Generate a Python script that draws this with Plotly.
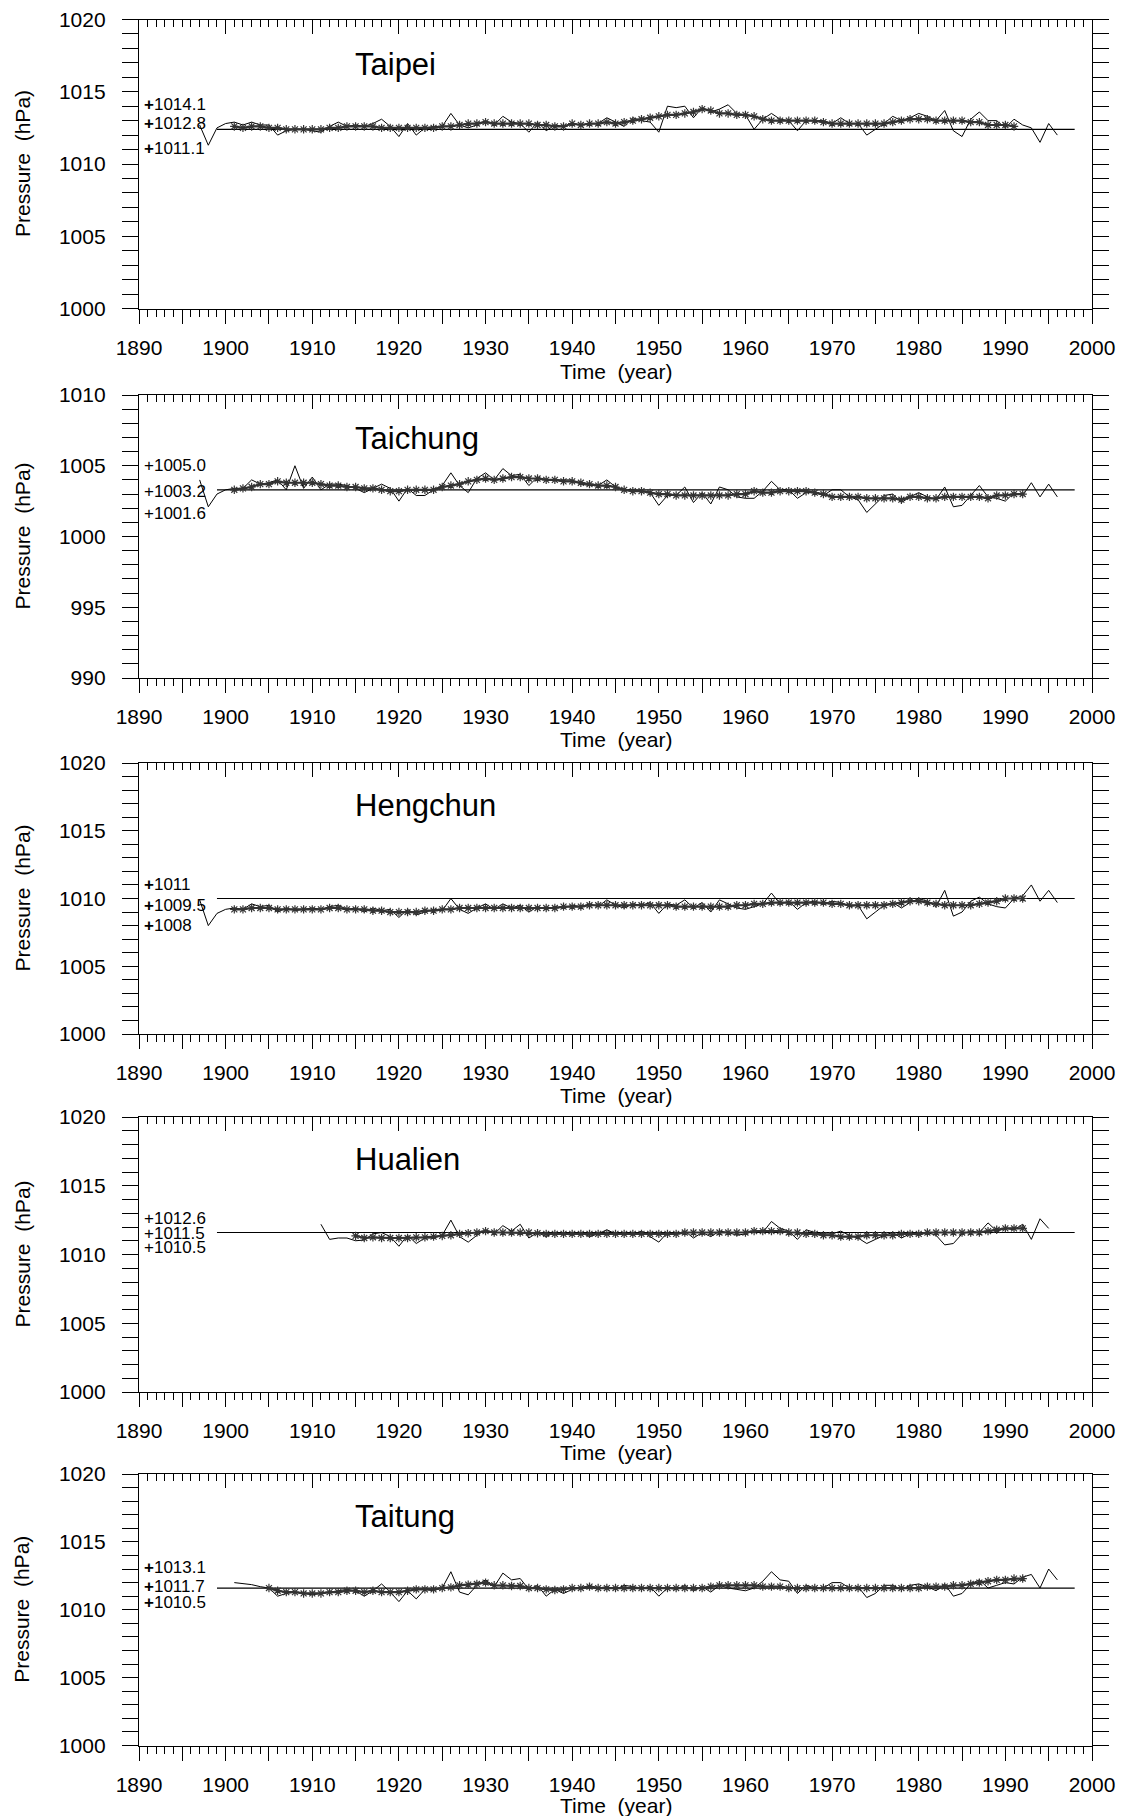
import plotly.graph_objects as go

W, H = 1121, 1816

# ---------------- data ----------------
stations = ["Taipei", "Taichung", "Hengchun", "Hualien", "Taitung"]
y_ranges = [(1000, 1020), (990, 1010), (1000, 1020), (1000, 1020), (1000, 1020)]
x_tickvals = list(range(1890, 2001, 5))
x_ticktext = [str(v) if v % 10 == 0 else "" for v in x_tickvals]

# Taipei
taipei_start = 1897
taipei_annual = [1012.7, 1011.3, 1012.5, 1012.8, 1012.9, 1012.7, 1012.9, 1012.7, 1012.7, 1012.0,
                 1012.3, 1012.4, 1012.4, 1012.3, 1012.2, 1012.6, 1012.9, 1012.6, 1012.7, 1012.6,
                 1012.8, 1013.1, 1012.6, 1011.9, 1012.8, 1012.0, 1012.5, 1012.6, 1012.6, 1013.5,
                 1012.7, 1012.5, 1012.7, 1013.0, 1012.7, 1013.3, 1012.9, 1012.8, 1012.2, 1012.9,
                 1012.3, 1012.7, 1012.6, 1012.8, 1012.7, 1012.8, 1012.8, 1013.2, 1012.9, 1012.6,
                 1013.2, 1013.0, 1012.9, 1012.2, 1014.0, 1013.9, 1014.0, 1013.2, 1013.9, 1013.6,
                 1013.8, 1014.1, 1013.5, 1013.4, 1012.4, 1013.1, 1013.5, 1013.1, 1013.0, 1012.3,
                 1013.0, 1013.0, 1013.0, 1012.8, 1013.2, 1012.8, 1012.8, 1012.0, 1012.4, 1012.8,
                 1013.3, 1013.0, 1013.2, 1013.5, 1013.3, 1013.0, 1013.7, 1012.3, 1011.9, 1013.1,
                 1013.6, 1013.0, 1013.0, 1012.5, 1013.1, 1012.7, 1012.5, 1011.5, 1012.8, 1012.0]
taipei_smooth_start = 1901
taipei_smooth = [1012.6, 1012.5, 1012.6, 1012.6, 1012.5, 1012.5, 1012.4, 1012.4, 1012.4, 1012.4,
                 1012.4, 1012.5, 1012.5, 1012.6, 1012.6, 1012.6, 1012.6, 1012.5, 1012.5, 1012.5,
                 1012.5, 1012.5, 1012.5, 1012.5, 1012.6, 1012.6, 1012.7, 1012.8, 1012.8, 1012.9,
                 1012.8, 1012.8, 1012.8, 1012.8, 1012.8, 1012.7, 1012.7, 1012.6, 1012.6, 1012.8,
                 1012.7, 1012.8, 1012.8, 1012.9, 1012.8, 1012.9, 1013.0, 1013.1, 1013.2, 1013.3,
                 1013.4, 1013.4, 1013.5, 1013.6, 1013.8, 1013.7, 1013.5, 1013.5, 1013.4, 1013.4,
                 1013.3, 1013.1, 1013.0, 1013.0, 1013.0, 1013.0, 1013.0, 1013.0, 1012.9, 1012.8,
                 1012.8, 1012.8, 1012.8, 1012.8, 1012.8, 1012.8, 1012.9, 1013.0, 1013.1, 1013.1,
                 1013.1, 1013.0, 1013.0, 1013.0, 1013.0, 1012.9, 1012.9, 1012.7, 1012.7, 1012.7,
                 1012.6]
taipei_mean = 1012.4
taipei_marks = [1014.1, 1012.8, 1011.1]
taipei_mark_text = ["1014.1", "1012.8", "1011.1"]

# Taichung
taichung_start = 1897
taichung_annual = [1004.0, 1002.1, 1003.0, 1003.3, 1003.4, 1003.4, 1004.0, 1003.7, 1003.8, 1004.0,
                   1003.3, 1005.0, 1003.4, 1004.2, 1003.3, 1003.7, 1003.7, 1003.6, 1003.4, 1003.1,
                   1003.4, 1003.7, 1003.4, 1002.5, 1003.4, 1002.9, 1002.9, 1003.3, 1003.6, 1004.5,
                   1003.6, 1003.1, 1004.1, 1004.5, 1004.0, 1004.8, 1004.3, 1004.4, 1003.6, 1004.2,
                   1004.0, 1004.0, 1004.0, 1004.0, 1003.7, 1003.6, 1003.6, 1004.0, 1003.5, 1003.3,
                   1003.3, 1003.2, 1003.1, 1002.2, 1002.9, 1002.9, 1003.5, 1002.4, 1003.1, 1002.3,
                   1003.5, 1003.3, 1002.8, 1002.7, 1002.7, 1003.2, 1003.9, 1003.3, 1003.3, 1002.7,
                   1003.1, 1003.1, 1002.9, 1003.3, 1003.3, 1002.8, 1002.6, 1001.7, 1002.3, 1002.9,
                   1003.0, 1002.4, 1002.8, 1003.1, 1002.8, 1002.6, 1003.5, 1002.1, 1002.2, 1002.9,
                   1003.6, 1002.8, 1002.7, 1002.5, 1003.1, 1002.9, 1003.8, 1002.8, 1003.7, 1002.8]
taichung_smooth_start = 1901
taichung_smooth = [1003.3, 1003.4, 1003.5, 1003.7, 1003.7, 1003.9, 1003.8, 1003.8, 1003.8, 1003.8,
                   1003.7, 1003.6, 1003.6, 1003.5, 1003.5, 1003.4, 1003.4, 1003.3, 1003.2, 1003.2,
                   1003.3, 1003.3, 1003.3, 1003.3, 1003.5, 1003.6, 1003.7, 1003.9, 1004.0, 1004.1,
                   1004.0, 1004.1, 1004.2, 1004.2, 1004.1, 1004.1, 1004.0, 1004.0, 1003.9, 1003.9,
                   1003.8, 1003.7, 1003.6, 1003.6, 1003.5, 1003.3, 1003.2, 1003.2, 1003.1, 1003.0,
                   1003.0, 1002.9, 1002.9, 1002.9, 1002.9, 1002.9, 1002.9, 1002.9, 1003.0, 1003.0,
                   1003.2, 1003.1, 1003.1, 1003.2, 1003.2, 1003.2, 1003.2, 1003.1, 1003.0, 1002.8,
                   1002.8, 1002.8, 1002.8, 1002.7, 1002.7, 1002.7, 1002.7, 1002.6, 1002.8, 1002.8,
                   1002.7, 1002.7, 1002.8, 1002.8, 1002.8, 1002.8, 1002.8, 1002.7, 1002.9, 1002.9,
                   1003.0, 1003.0]
taichung_mean = 1003.3
taichung_marks = [1005.0, 1003.2, 1001.6]
taichung_mark_text = ["1005.0", "1003.2", "1001.6"]

# Hengchun
hengchun_start = 1897
hengchun_annual = [1009.9, 1008.0, 1008.9, 1009.2, 1009.3, 1009.2, 1009.6, 1009.4, 1009.5, 1009.0,
                   1009.3, 1009.1, 1009.2, 1009.3, 1009.2, 1009.4, 1009.5, 1009.2, 1009.3, 1009.0,
                   1009.3, 1009.1, 1009.2, 1008.6, 1009.2, 1008.8, 1009.0, 1009.2, 1009.1, 1010.0,
                   1009.2, 1008.9, 1009.3, 1009.6, 1009.2, 1009.6, 1009.3, 1009.5, 1009.0, 1009.4,
                   1009.2, 1009.4, 1009.3, 1009.5, 1009.4, 1009.6, 1009.4, 1009.9, 1009.5, 1009.3,
                   1009.6, 1009.5, 1009.7, 1008.9, 1009.6, 1009.5, 1009.9, 1009.3, 1009.7, 1009.0,
                   1009.9, 1009.6, 1009.3, 1009.2, 1009.4, 1009.6, 1010.4, 1009.6, 1009.8, 1009.2,
                   1009.7, 1009.8, 1009.6, 1009.8, 1009.7, 1009.4, 1009.5, 1008.5, 1009.0, 1009.5,
                   1009.7, 1009.3, 1009.7, 1010.0, 1009.8, 1009.4, 1010.6, 1008.7, 1009.0, 1009.8,
                   1010.1, 1009.6, 1009.4, 1009.3, 1010.0, 1010.2, 1011.0, 1009.8, 1010.6, 1009.7]
hengchun_smooth_start = 1901
hengchun_smooth = [1009.2, 1009.2, 1009.3, 1009.3, 1009.3, 1009.2, 1009.2, 1009.2, 1009.2, 1009.2,
                   1009.2, 1009.3, 1009.3, 1009.2, 1009.2, 1009.2, 1009.1, 1009.1, 1009.0, 1009.0,
                   1009.0, 1009.0, 1009.1, 1009.1, 1009.2, 1009.2, 1009.3, 1009.3, 1009.3, 1009.3,
                   1009.3, 1009.3, 1009.3, 1009.3, 1009.3, 1009.3, 1009.3, 1009.3, 1009.4, 1009.4,
                   1009.4, 1009.5, 1009.5, 1009.5, 1009.5, 1009.5, 1009.5, 1009.5, 1009.5, 1009.5,
                   1009.5, 1009.4, 1009.4, 1009.4, 1009.4, 1009.4, 1009.4, 1009.4, 1009.5, 1009.5,
                   1009.6, 1009.6, 1009.7, 1009.7, 1009.7, 1009.7, 1009.7, 1009.7, 1009.7, 1009.6,
                   1009.6, 1009.5, 1009.5, 1009.5, 1009.5, 1009.5, 1009.6, 1009.7, 1009.8, 1009.8,
                   1009.7, 1009.6, 1009.5, 1009.5, 1009.5, 1009.5, 1009.6, 1009.7, 1009.8, 1010.0,
                   1010.0, 1010.0]
hengchun_mean = 1010.0
hengchun_marks = [1011.0, 1009.5, 1008.0]
hengchun_mark_text = ["1011", "1009.5", "1008"]

# Hualien
hualien_start = 1911
hualien_annual = [1012.2, 1011.1, 1011.2, 1011.2, 1011.0, 1011.05, 1011.5, 1011.6, 1011.3, 1010.6,
                  1011.4, 1010.8, 1011.2, 1011.2, 1011.4, 1012.5, 1011.3, 1010.9, 1011.4, 1011.8,
                  1011.5, 1012.1, 1011.7, 1012.2, 1011.2, 1011.6, 1011.3, 1011.6, 1011.5, 1011.4,
                  1011.6, 1011.3, 1011.5, 1011.8, 1011.5, 1011.6, 1011.4, 1011.7, 1011.3, 1010.9,
                  1011.6, 1011.5, 1011.7, 1011.2, 1011.6, 1011.3, 1011.7, 1011.6, 1011.4, 1011.5,
                  1011.7, 1011.6, 1012.4, 1011.9, 1011.7, 1011.1, 1011.8, 1011.6, 1011.5, 1011.5,
                  1011.7, 1011.4, 1011.2, 1010.8, 1011.1, 1011.4, 1011.6, 1011.2, 1011.5, 1011.4,
                  1011.6, 1011.4, 1010.7, 1010.8, 1011.5, 1011.7, 1011.6, 1012.3, 1011.7, 1011.9,
                  1011.8, 1012.2, 1011.1, 1012.6, 1011.9]
hualien_smooth_start = 1915
hualien_smooth = [1011.35, 1011.2, 1011.25, 1011.2, 1011.2, 1011.2, 1011.2, 1011.25, 1011.25, 1011.3,
                  1011.35, 1011.4, 1011.5, 1011.55, 1011.6, 1011.7, 1011.6, 1011.6, 1011.6, 1011.6,
                  1011.6, 1011.55, 1011.5, 1011.5, 1011.5, 1011.5, 1011.5, 1011.5, 1011.5, 1011.5,
                  1011.5, 1011.5, 1011.5, 1011.5, 1011.5, 1011.5, 1011.5, 1011.5, 1011.6, 1011.6,
                  1011.6, 1011.6, 1011.6, 1011.6, 1011.6, 1011.6, 1011.7, 1011.7, 1011.7, 1011.7,
                  1011.6, 1011.6, 1011.5, 1011.5, 1011.4, 1011.4, 1011.3, 1011.3, 1011.3, 1011.4,
                  1011.4, 1011.4, 1011.4, 1011.5, 1011.5, 1011.5, 1011.6, 1011.6, 1011.6, 1011.6,
                  1011.6, 1011.6, 1011.6, 1011.7, 1011.8, 1011.9, 1011.9, 1011.9]
hualien_mean = 1011.6
hualien_marks = [1012.6, 1011.5, 1010.5]
hualien_mark_text = ["1012.6", "1011.5", "1010.5"]

# Taitung
taitung_start = 1901
taitung_annual = [1012.0, 1011.95, 1011.85, 1011.7, 1011.6, 1011.0, 1011.2, 1011.3, 1011.2, 1011.1,
                  1011.2, 1011.3, 1011.4, 1011.5, 1011.4, 1011.0, 1011.4, 1011.9, 1011.3, 1010.6,
                  1011.4, 1010.8, 1011.5, 1011.4, 1011.6, 1012.8, 1011.3, 1011.1, 1011.8, 1012.2,
                  1011.7, 1012.7, 1012.2, 1012.3, 1011.5, 1011.8, 1011.0, 1011.5, 1011.2, 1011.5,
                  1011.6, 1011.8, 1011.6, 1011.7, 1011.5, 1011.8, 1011.7, 1011.6, 1011.7, 1011.0,
                  1011.6, 1011.5, 1011.8, 1011.4, 1011.7, 1011.3, 1011.8, 1011.6, 1011.5, 1011.4,
                  1011.6, 1012.1, 1012.8, 1012.2, 1012.1, 1011.2, 1011.8, 1011.6, 1011.6, 1012.0,
                  1012.0, 1011.6, 1011.7, 1010.9, 1011.2, 1011.8, 1011.8, 1011.5, 1011.8, 1011.9,
                  1011.7, 1011.4, 1011.9, 1011.0, 1011.2, 1011.9, 1012.2, 1011.6, 1011.8, 1012.0,
                  1011.9, 1012.4, 1012.6, 1011.6, 1013.0, 1012.2]
taitung_smooth_start = 1905
taitung_smooth = [1011.6, 1011.4, 1011.3, 1011.3, 1011.2, 1011.2, 1011.2, 1011.3, 1011.3, 1011.4,
                  1011.4, 1011.3, 1011.4, 1011.3, 1011.3, 1011.3, 1011.4, 1011.5, 1011.5, 1011.5,
                  1011.6, 1011.65, 1011.8, 1011.85, 1011.9, 1012.0, 1011.8, 1011.8, 1011.75, 1011.75,
                  1011.6, 1011.6, 1011.5, 1011.45, 1011.5, 1011.6, 1011.6, 1011.7, 1011.6, 1011.6,
                  1011.6, 1011.6, 1011.6, 1011.6, 1011.6, 1011.6, 1011.6, 1011.6, 1011.6, 1011.6,
                  1011.6, 1011.7, 1011.8, 1011.8, 1011.8, 1011.8, 1011.8, 1011.7, 1011.7, 1011.7,
                  1011.6, 1011.6, 1011.6, 1011.6, 1011.6, 1011.6, 1011.6, 1011.6, 1011.6, 1011.6,
                  1011.6, 1011.6, 1011.6, 1011.6, 1011.6, 1011.6, 1011.7, 1011.7, 1011.7, 1011.8,
                  1011.8, 1011.9, 1012.0, 1012.1, 1012.2, 1012.2, 1012.3, 1012.3]
taitung_mean = 1011.6
taitung_marks = [1013.1, 1011.7, 1010.5]
taitung_mark_text = ["1013.1", "1011.7", "1010.5"]

mean_span = [1899, 1998]
title_year = 1914.7
title_offset = 3.1  # below top of y range
x_title = "Time\u00a0 (year)"
y_title = "Pressure\u00a0 (hPa)"

panels = [
    (taipei_start, taipei_annual, taipei_smooth_start, taipei_smooth, taipei_mean, taipei_marks, taipei_mark_text, True),
    (taichung_start, taichung_annual, taichung_smooth_start, taichung_smooth, taichung_mean, taichung_marks, taichung_mark_text, False),
    (hengchun_start, hengchun_annual, hengchun_smooth_start, hengchun_smooth, hengchun_mean, hengchun_marks, hengchun_mark_text, True),
    (hualien_start, hualien_annual, hualien_smooth_start, hualien_smooth, hualien_mean, hualien_marks, hualien_mark_text, False),
    (taitung_start, taitung_annual, taitung_smooth_start, taitung_smooth, taitung_mean, taitung_marks, taitung_mark_text, True),
]

# ---------------- layout geometry (pixels) ----------------
panel_top_px = [19.5, 395.0, 763.0, 1117.0, 1474.0]
panel_bot_px = [308.5, 678.0, 1034.0, 1392.0, 1745.5]
xtitle_gap_px = [63, 62, 61, 60, 59.5]
x_left_px, x_right_px = 139.0, 1092.0

FONT = "Liberation Sans, Arial, sans-serif"
fig = go.Figure()
layout = dict(
    template="none",
    width=W, height=H, margin=dict(l=0, r=0, t=0, b=0, autoexpand=False),
    paper_bgcolor="white", plot_bgcolor="white", showlegend=False,
    font=dict(family=FONT, color="black", size=21),
)
annotations = []

for i, (st, ann, sst, sm, mean, marks, mtext, boldplus) in enumerate(panels):
    xid_b = 2 * i + 1
    xid_t = 2 * i + 2
    yid = i + 1
    yname = "y" if yid == 1 else f"y{yid}"
    xbname = "x" if xid_b == 1 else f"x{xid_b}"
    xtname = f"x{xid_t}"
    ydom = [1 - panel_bot_px[i] / H, 1 - panel_top_px[i] / H]
    xdom = [x_left_px / W, x_right_px / W]
    y0, y1 = y_ranges[i]

    years = list(range(st, st + len(ann)))
    syears = list(range(sst, sst + len(sm)))

    fig.add_trace(go.Scatter(x=mean_span, y=[mean, mean], mode="lines",
                             line=dict(color="black", width=1.2),
                             xaxis=xbname, yaxis=yname, hoverinfo="skip"))
    fig.add_trace(go.Scatter(x=years, y=ann, mode="lines",
                             line=dict(color="black", width=1.0),
                             xaxis=xbname, yaxis=yname))
    fig.add_trace(go.Scatter(x=syears, y=sm, mode="lines+markers",
                             line=dict(color="#333333", width=2.2),
                             marker=dict(symbol="asterisk-open", size=7,
                                         line=dict(color="black", width=1.2)),
                             xaxis=xbname, yaxis=yname))
    # invisible carrier trace so the top (mirror) axis is drawn
    fig.add_trace(go.Scatter(x=[mean_span[0]], y=[mean], mode="markers",
                             marker=dict(opacity=0, size=1), xaxis=xtname, yaxis=yname,
                             hoverinfo="skip"))

    common_x = dict(range=[1890, 2000], domain=xdom, showgrid=False, zeroline=False,
                    automargin=False, showline=True, linecolor="black", linewidth=1.3,
                    tickmode="array", tickvals=x_tickvals, ticktext=x_ticktext,
                    tickcolor="black", tickwidth=1.2, ticklen=14)
    minor_x = dict(dtick=1, ticklen=7, tickcolor="black", tickwidth=1.0, showgrid=False)
    layout[f"xaxis{'' if xid_b == 1 else xid_b}"] = dict(
        common_x, anchor=yname, ticks="outside", side="bottom",
        tickfont=dict(size=21, family=FONT), ticklabelstandoff=6,
        minor=dict(minor_x, ticks="outside"))
    layout[f"xaxis{xid_t}"] = dict(
        common_x, anchor=yname, overlaying=xbname, side="top", ticks="inside",
        showticklabels=False, minor=dict(minor_x, ticks="inside"))
    layout[f"yaxis{'' if yid == 1 else yid}"] = dict(
        range=[y0, y1], domain=ydom, anchor=xbname, showgrid=False, zeroline=False,
        automargin=False, showline=True, linecolor="black", linewidth=1.3, mirror="allticks",
        ticks="outside", tickmode="array", tickvals=list(range(y0, y1 + 1, 5)), ticklen=16,
        tickwidth=1.2, tickcolor="black", tickfont=dict(size=21, family=FONT),
        ticklabelstandoff=12,
        minor=dict(dtick=1, ticklen=8, ticks="outside", tickcolor="black", tickwidth=1.0,
                   showgrid=False))

    # station title
    annotations.append(dict(x=title_year, y=y1 - title_offset, xref=xbname, yref=yname,
                            text=stations[i], showarrow=False, xanchor="left", yanchor="middle",
                            font=dict(size=31, family=FONT, color="black")))
    # max / mean / min marks
    for v, t in zip(marks, mtext):
        plus = "<b>+</b>" if boldplus else "+"
        annotations.append(dict(x=1890.3, y=v, xref=xbname, yref=yname,
                                text=plus + t, showarrow=False, xanchor="left", yanchor="middle",
                                font=dict(size=17, family=FONT, color="black")))
    # axis titles
    annotations.append(dict(x=22 / W, y=1 - (panel_top_px[i] + panel_bot_px[i]) / 2 / H,
                            xref="paper", yref="paper", text=y_title, textangle=-90,
                            showarrow=False, xanchor="center", yanchor="middle",
                            font=dict(size=21, family=FONT, color="black")))
    annotations.append(dict(x=(x_left_px + x_right_px) / 2 / W,
                            y=1 - (panel_bot_px[i] + xtitle_gap_px[i]) / H,
                            xref="paper", yref="paper", text=x_title,
                            showarrow=False, xanchor="center", yanchor="middle",
                            font=dict(size=21, family=FONT, color="black")))

layout["annotations"] = annotations
fig.update_layout(**layout)
fig.write_html("out.html")
